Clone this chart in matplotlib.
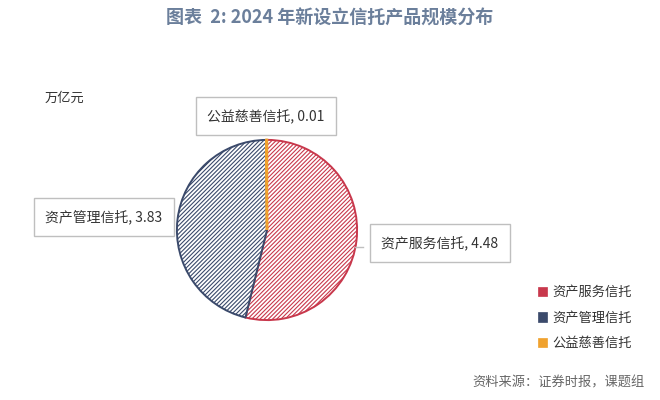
import matplotlib
matplotlib.use("Agg")
import matplotlib.pyplot as plt
from matplotlib.patches import Patch

plt.rcParams['font.family'] = ['Noto Sans CJK SC', 'DejaVu Sans']
plt.rcParams['hatch.linewidth'] = 0.8

categories = ['资产服务信托', '资产管理信托', '公益慈善信托']
values = [4.48, 3.83, 0.01]
colors = ['#C8384C', '#3B4A6B', '#F0A22E']
title = '图表  2: 2024 年新设立信托产品规模分布'
unit = '万亿元'
source = '资料来源：证券时报，课题组'

W, H = 660, 400
fig = plt.figure(figsize=(W / 100, H / 100), dpi=100)

# pie axes: centre (267, 230) px, radius 90 px
cx, cy, r = 267, 230, 91
ax = fig.add_axes([(cx - r) / W, (H - cy - r) / H, 2 * r / W, 2 * r / H])
wedges, _ = ax.pie(values, startangle=90, counterclock=False,
                   colors=['white'] * 3,
                   wedgeprops=dict(linewidth=1.4, hatch='////////'))
for w, c in zip(wedges, colors):
    w.set_edgecolor(c)
wedges[2].set_linewidth(1.8)  # tiny slice drawn as a thicker line
wedges[2].set_zorder(3)
ax.set_aspect('equal')
ax.set_xlim(-1.01, 1.01)
ax.set_ylim(-1.01, 1.01)

fig.text(0.5, 1 - 18 / H, title, ha='center', va='center',
         fontsize=13, fontweight='bold', color='#6B7F9B')
fig.text(45 / W, 1 - 98 / H, unit, ha='left', va='center',
         fontsize=9.5, color='#333333')

# data labels in boxes
label_pos = [(440, 243), (104, 217), (266, 116)]
box = dict(boxstyle='square,pad=0.85', facecolor='white',
           edgecolor='#BFBFBF', linewidth=1)
for name, v, (x, y) in zip(categories, values, label_pos):
    fig.text(x / W, 1 - y / H, f'{name}, {v:.2f}', ha='center', va='center',
             fontsize=10, color='#333333', bbox=box)

# leader line to right label
fig.add_artist(plt.Line2D([355 / W, 363 / W], [1 - 247 / H, 1 - 247 / H],
                          color='#BFBFBF', linewidth=1))

handles = [Patch(facecolor=c, edgecolor=c, linewidth=0.5) for c in colors]
fig.legend(handles, categories, loc='center left',
           bbox_to_anchor=(526 / W, 1 - 318 / H), frameon=False,
           fontsize=9.5, handlelength=0.7, handleheight=0.7,
           handletextpad=0.4, labelspacing=0.95, labelcolor='#333333')

fig.text(645 / W, 1 - 383 / H, source, ha='right', va='center',
         fontsize=9.5, color='#666666')

fig.savefig('out.png', dpi=100)
